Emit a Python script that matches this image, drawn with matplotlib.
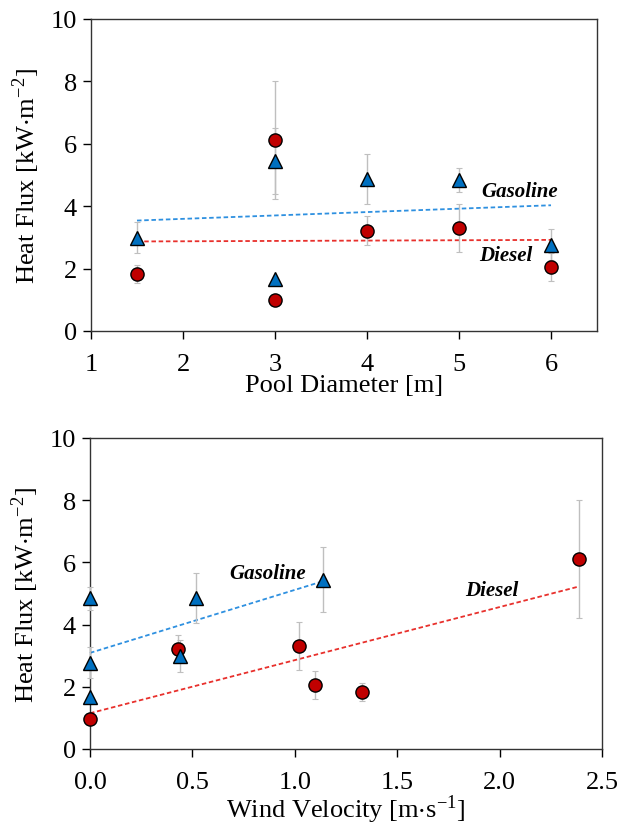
import numpy as np
import matplotlib
matplotlib.use("Agg")
import matplotlib.pyplot as plt

plt.rcParams["font.family"] = ["Liberation Serif", "DejaVu Serif"]
plt.rcParams["mathtext.fontset"] = "stix"

# ---- data: pool diameter ----------------------------------------------------
d_diesel = [1.5, 3, 3, 4, 5, 6]
q_diesel = [1.83, 6.12, 0.98, 3.22, 3.30, 2.06]
e_diesel = [0.30, 1.90, 0.0, 0.45, 0.77, 0.45]

d_gas = [1.5, 3, 3, 4, 5, 6]
q_gas = [2.99, 5.45, 1.68, 4.86, 4.84, 2.77]
e_gas = [0.50, 1.05, 0.0, 0.80, 0.37, 0.50]

# ---- data: wind velocity ----------------------------------------------------
w_diesel = [0.0, 0.43, 1.02, 1.10, 1.33, 2.39]
qw_diesel = [0.98, 3.22, 3.30, 2.06, 1.83, 6.12]
ew_diesel = [0.0, 0.45, 0.77, 0.45, 0.30, 1.90]

w_gas = [0.0, 0.0, 0.0, 0.52, 0.44, 1.14]
qw_gas = [4.84, 2.77, 1.68, 4.86, 2.99, 5.45]
ew_gas = [0.37, 0.50, 0.0, 0.80, 0.50, 1.05]

# trend line end points
trend_top = {"gas": ([1.5, 6], [3.54, 4.03]), "diesel": ([1.5, 6], [2.87, 2.92])}
trend_bot = {"gas": ([0, 1.14], [3.09, 5.40]), "diesel": ([0, 2.39], [1.15, 5.23])}

C_RED, C_BLUE = "#C00000", "#0070C0"
L_RED, L_BLUE = "#E8302C", "#2E90E0"
C_ERR = "#BFBFBF"
FS = 19

fig = plt.figure(figsize=(6.26, 8.28), dpi=100)
ax1 = fig.add_axes([91 / 626, 1 - 332 / 828, 506 / 626, 312 / 828])
ax2 = fig.add_axes([90 / 626, 1 - 750 / 828, 512 / 626, 311 / 828])


def panel(ax, xg, yg, eg, xd, yd, ed, trend):
    ax.plot(*trend["gas"], ls=(0, (2.5, 1.5)), color=L_BLUE, lw=1.3, zorder=2)
    ax.plot(*trend["diesel"], ls=(0, (2.5, 1.5)), color=L_RED, lw=1.3, zorder=2)
    ax.errorbar(xd, yd, yerr=ed, fmt="none", ecolor=C_ERR, elinewidth=1.0,
                capsize=2, capthick=0.8, zorder=3)
    ax.errorbar(xg, yg, yerr=eg, fmt="none", ecolor=C_ERR, elinewidth=1.0,
                capsize=2, capthick=0.8, zorder=3)
    ax.plot(xd, yd, "o", ms=9.5, mfc=C_RED, mec="black", mew=1.0, ls="none", zorder=5)
    ax.plot(xg, yg, "^", ms=10, mfc=C_BLUE, mec="black", mew=1.0, ls="none", zorder=5)
    ax.set_ylim(0, 10)
    ax.set_yticks([0, 2, 4, 6, 8, 10])
    ax.set_ylabel(r"Heat Flux [kW$\cdot$m$^{\mathregular{-2}}$]", fontsize=FS, labelpad=6)
    ax.tick_params(direction="out", length=6, width=1.0, labelsize=FS, pad=4)
    ax.tick_params(axis="x", pad=10)
    ax.tick_params(top=False, right=False)
    for s in ax.spines.values():
        s.set_linewidth(1.0)
        s.set_color("#333333")


panel(ax1, d_gas, q_gas, e_gas, d_diesel, q_diesel, e_diesel, trend_top)
ax1.set_xlim(1, 6.5)
ax1.set_xticks([1, 2, 3, 4, 5, 6])
ax1.set_xlabel("Pool Diameter [m]", fontsize=FS, labelpad=-1)
ax1.text(5.66, 4.49, "Gasoline", fontsize=15, style="italic", fontweight="bold",
         ha="center", va="center")
ax1.text(5.51, 2.45, "Diesel", fontsize=15, style="italic", fontweight="bold",
         ha="center", va="center")

panel(ax2, w_gas, qw_gas, ew_gas, w_diesel, qw_diesel, ew_diesel, trend_bot)
ax2.set_xlim(0, 2.5)
ax2.set_xticks([0, 0.5, 1.0, 1.5, 2.0, 2.5])
ax2.set_xticklabels(["0.0", "0.5", "1.0", "1.5", "2.0", "2.5"])
ax2.set_xlabel(r"Wind Velocity [m$\cdot$s$^{\mathregular{-1}}$]", fontsize=FS, labelpad=-1)
ax2.text(0.865, 5.66, "Gasoline", fontsize=15, style="italic", fontweight="bold",
         ha="center", va="center")
ax2.text(1.96, 5.10, "Diesel", fontsize=15, style="italic", fontweight="bold",
         ha="center", va="center")

for ax in (ax1, ax2):
    for c in ax.lines:
        c.set_clip_on(False)

fig.savefig("out.png", dpi=100)
